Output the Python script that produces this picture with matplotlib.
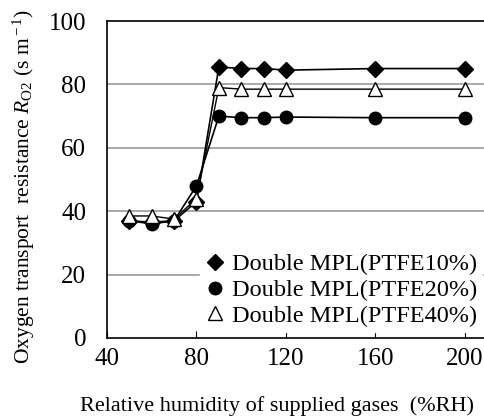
import matplotlib
matplotlib.use("Agg")
import matplotlib.pyplot as plt

rh = [50, 60, 70, 80, 90, 100, 110, 120, 160, 200]
ptfe10 = [37, 36.5, 37, 43, 85.5, 85, 85, 84.5, 85, 85]
ptfe20 = [37, 36, 37, 48, 70, 69.5, 69.5, 69.7, 69.5, 69.5]
ptfe40 = [38.5, 38.5, 37.5, 44, 79, 78.5, 78.5, 78.5, 78.5, 78.5]
labels = ["Double MPL(PTFE10%)", "Double MPL(PTFE20%)", "Double MPL(PTFE40%)"]
xticks = [40, 80, 120, 160, 200]
yticks = [0, 20, 40, 60, 80, 100]

plt.rcParams['font.family'] = ['Liberation Serif', 'DejaVu Serif']
plt.rcParams['mathtext.fontset'] = 'custom'
plt.rcParams['mathtext.rm'] = 'Liberation Serif'
plt.rcParams['mathtext.it'] = 'Liberation Serif:italic'

fig = plt.figure(figsize=(4.85, 4.2), dpi=100)
ax_w = (485 - 107) * 1.05
ax = fig.add_axes([107/485, 1-338/420, ax_w/485, (338-21)/420])

ax.set_xlim(40, 40 + ax_w / 2.2375)
ax.set_ylim(0, 100)

for v in [20, 40, 60, 80]:
    ax.axhline(v, color='#999999', lw=1.2, zorder=0)

ax.plot(rh, ptfe10, '-', color='black', lw=1.2, marker='D', ms=8, mfc='black', mec='black', label=labels[0], zorder=3)
ax.plot(rh, ptfe20, '-', color='black', lw=1.2, marker='o', ms=9, mfc='black', mec='black', label=labels[1], zorder=3)
ax.plot(rh, ptfe40, '-', color='black', lw=1.0, marker='^', ms=10, mfc='white', mec='black', mew=1.0, label=labels[2], zorder=4)

ax.set_xticks(xticks)
ax.set_yticks(yticks)
ax.tick_params(axis='x', direction='in', length=5, labelsize=18, pad=7)
ax.tick_params(axis='y', length=0, labelsize=18, pad=15)
for s in ax.spines.values():
    s.set_linewidth(1.2)
ax.spines['right'].set_visible(False)

leg = ax.legend(loc='lower left', bbox_to_anchor=((200 - 107) / ax_w, 0.02), frameon=True, fontsize=17.5,
                handlelength=0.8, handletextpad=0.3, labelspacing=0.15, borderpad=0.2,
                borderaxespad=0.0)
leg.get_frame().set_edgecolor('white')
leg.get_frame().set_facecolor('white')
leg.get_frame().set_alpha(1.0)
for h in leg.legend_handles:
    h.set_linestyle('')

fig.text(0.5*(82+473)/485, 4/420, "Relative humidity of supplied gases  (%RH)", ha='center', va='bottom', fontsize=16)
fig.text(24/485, 1 - 186/420, r"Oxygen transport  resistance $\mathit{R}_{\rm O2}$ (s m$^{\rm -1}$)",
         rotation=90, ha='center', va='center', fontsize=15.5)

fig.savefig("out.png", dpi=100)
